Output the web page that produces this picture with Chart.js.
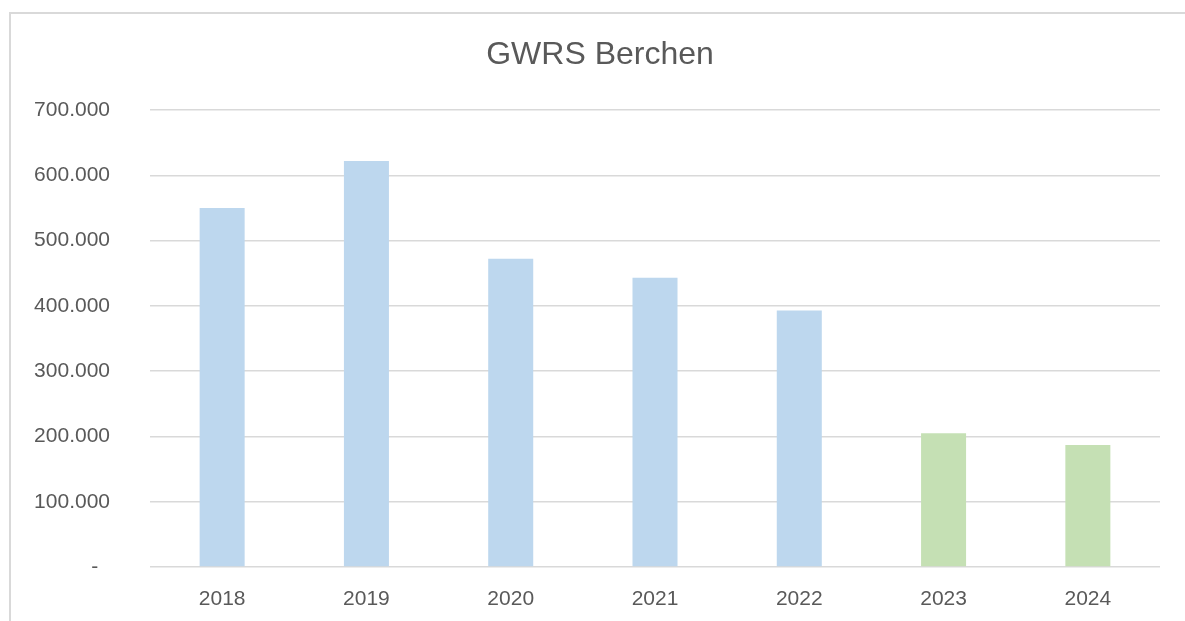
<!DOCTYPE html>
<html>
<head>
<meta charset="utf-8">
<script src="https://cdn.jsdelivr.net/npm/chart.js@4"></script>
<style>
  html, body { margin: 0; padding: 0; background: #fff; overflow: hidden; }
  #frame { position: absolute; left: 9px; top: 12px; width: 1200px; height: 640px; border: 2px solid #D9D9D9; box-sizing: border-box; }
  #chart { position: absolute; left: 0; top: 0; }
</style>
</head>
<body>
<div id="frame"></div>
<canvas id="chart" width="1185" height="621"></canvas>
<script>
// Daten
const years = ['2018', '2019', '2020', '2021', '2022', '2023', '2024'];
const amounts = [550000, 622000, 472000, 443000, 393000, 205000, 187000];
const yTicks = [0, 100000, 200000, 300000, 400000, 500000, 600000, 700000];
const chartTitle = 'GWRS Berchen';

// Farben: blau bis 2022, grün ab 2023
const blue = '#BDD7EE';
const green = '#C5E0B4';
const barColors = years.map(y => (+y >= 2023 ? green : blue));

const textColor = '#595959';
const font = 'Liberation Sans, Arial, sans-serif';

// Titel mittig über dem Rahmen (nicht über der Zeichenfläche)
const titlePlugin = {
    id: 'frameTitle',
    afterDraw(chart) {
        const ctx = chart.ctx;
        ctx.save();
        ctx.fillStyle = textColor;
        ctx.font = '32px ' + font;
        ctx.textAlign = 'center';
        ctx.textBaseline = 'middle';
        ctx.fillText(chartTitle, 600, 55);
        ctx.restore();
    }
};

new Chart(document.getElementById('chart'), {
    type: 'bar',
    data: {
        labels: years,
        datasets: [{
            data: amounts,
            backgroundColor: barColors,
            borderWidth: 0,
            categoryPercentage: 1,
            barPercentage: 0.312
        }]
    },
    plugins: [titlePlugin],
    options: {
        responsive: false,
        animation: false,
        layout: { padding: { left: 0, right: 25, top: 110, bottom: 0 } },
        plugins: {
            legend: { display: false },
            tooltip: { enabled: false },
            title: { display: false }
        },
        scales: {
            x: {
                grid: { display: false, drawTicks: false },
                border: { display: false },
                ticks: { color: textColor, font: { family: font, size: 21 }, padding: 20 },
                afterFit: s => { s.height = 54; }
            },
            y: {
                min: 0,
                max: 700000,
                afterBuildTicks: s => { s.ticks = yTicks.map(v => ({ value: v })); },
                grid: { color: '#D9D9D9', lineWidth: 1.5, drawTicks: false },
                border: { display: false },
                ticks: {
                    color: textColor,
                    font: { family: font, size: 21 },
                    padding: 40,
                    callback: v => v === 0 ? '-  ' : v.toLocaleString('de-DE')
                },
                afterFit: s => { s.width = 150; }
            }
        }
    }
});
</script>
</body>
</html>
